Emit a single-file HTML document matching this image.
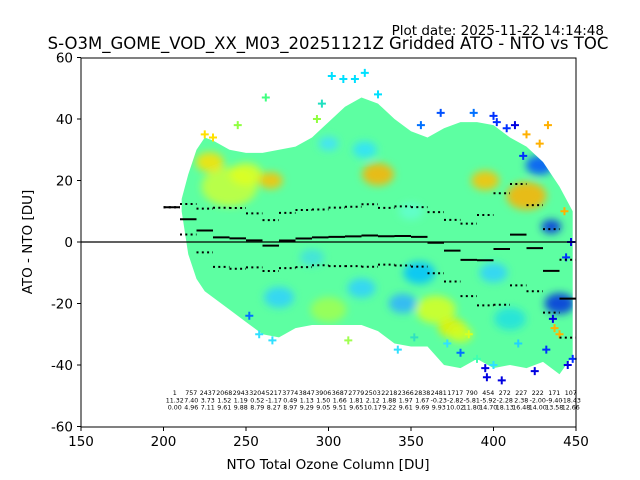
<!DOCTYPE html>
<html><head><meta charset="utf-8">
<style>
body{margin:0;background:#fff;}
svg{display:block;font-family:"DejaVu Sans","Liberation Sans",sans-serif;}
</style></head>
<body>
<svg id="chart" width="640" height="480" viewBox="0 0 640 480">
<defs>
<clipPath id="plotclip"><rect x="81" y="58" width="495" height="369"/></clipPath>
<filter id="blur" x="-50%" y="-50%" width="200%" height="200%"><feGaussianBlur stdDeviation="4"/></filter>
</defs>
<text x="604" y="35" font-size="13.5" text-anchor="end">Plot date: 2025-11-22 14:14:48</text>
<text x="328" y="49" font-size="16.5" text-anchor="middle">S-O3M_GOME_VOD_XX_M03_20251121Z Gridded ATO - NTO vs TOC</text>
<g id="cloud" clip-path="url(#plotclip)"></g>
<g id="marks"></g>
<g id="axes"></g>
<rect x="81" y="58" width="495" height="369" fill="none" stroke="#000" stroke-width="1"/>
<text x="328" y="469" font-size="13.5" text-anchor="middle">NTO Total Ozone Column [DU]</text>
<text x="32" y="242" font-size="13.5" text-anchor="middle" transform="rotate(-90 32 242)">ATO - NTO [DU]</text>
</svg>
<script>
const binStarts=[200,210,220,230,240,250,260,270,280,290,300,310,320,330,340,350,360,370,380,390,400,410,420,430,440];
const counts=[1,757,2437,2068,2943,3204,5217,3774,3847,3906,3687,2779,2503,2218,2366,2838,2481,1717,790,454,272,227,222,171,107];
const means=[11.32,7.40,3.73,1.52,1.19,0.52,-1.17,0.49,1.13,1.50,1.66,1.81,2.12,1.88,1.97,1.67,-0.23,-2.82,-5.81,-5.92,-2.28,2.38,-2.00,-9.40,-18.43];
const stds=[0.00,4.96,7.11,9.61,9.88,8.79,8.27,8.97,9.29,9.05,9.51,9.65,10.17,9.22,9.61,9.69,9.93,10.02,11.80,14.70,18.13,16.48,14.00,13.58,12.66];
const xTicks=[150,200,250,300,350,400,450];
const yTicks=[-60,-40,-20,0,20,40,60];
const envX=[211,215,220,225,230,240,250,260,270,280,290,300,310,320,330,340,350,360,370,380,390,400,410,420,430,440,448];
const envTop=[14,22,30,34,33,30,29,29,30,31,34,39,44,47,45,40,36,34,37,39,39,38,34,31,26,18,10];
const envBot=[10,-4,-12,-16,-18,-22,-26,-30,-31,-28,-27,-27,-27,-27,-29,-33,-34,-34,-40,-41,-38,-41,-40,-41,-39,-43,-37];
const patchX=[240,228,250,265,330,322,300,420,428,435,365,375,355,345,300,270,440,410,380,320,290,395,400,350];
const patchY=[18,26,22,20,22,30,32,15,25,5,-22,-28,-10,-20,-22,-18,-20,-25,-30,-15,-5,20,-10,10];
const patchR=[28,14,16,12,16,12,10,20,14,10,20,14,16,14,18,15,15,16,12,14,12,14,14,12];
const patchC=["#c8ff3a","#ffe000","#e0ff20","#ffc000","#ffb000","#30e0ff","#40e0ff","#ffb000","#0050ff","#0030e0","#d8ff20","#e8f000","#00c0ff","#30b0ff","#a0ff50","#30d0ff","#0030e0","#20e0e0","#d0ff20","#30d0ff","#40e0e0","#ffc000","#30d0ff","#60ffd0"];
const outX=[302,309,316,322,262,245,293,388,400,402,408,368,356,312,352,380,390,395,400,396,445,448,440,436,444,447,443,433,428,413,420,418,258,266,252,230,225,405,415,425,437,432,385,372,342,330,296];
const outY=[54,53,53,55,47,38,40,42,41,39,37,42,38,-32,-31,-36,-38,-41,-40,-44,-40,-38,-30,-25,-5,0,10,38,32,38,35,28,-30,-32,-24,34,35,-45,-33,-42,-28,-35,-30,-33,-35,48,45];
const outC=["#00e0ff","#00e0ff","#00e0ff","#00e0ff","#40ff80","#90ff40","#90ff40","#0070ff","#0030ff","#0030ff","#0030ff","#0050ff","#0070ff","#a0ff50","#30e0c0","#0070ff","#40ffb0","#0000e0","#30e0ff","#0000e0","#0000e0","#0030ff","#ffb000","#0000e0","#0030ff","#0000e0","#ffb000","#ffb000","#ffb000","#0000e0","#ffb000","#0030ff","#30e0ff","#30e0ff","#0070ff","#ffe000","#ffe000","#0000e0","#20d0ff","#0000e0","#ffb000","#0030ff","#d8ff20","#30e0ff","#30e0ff","#00e0ff","#20e0c0"];

const X=v=>81+(v-150)*495/300;
const Y=v=>242-v*369/120;
const NS="http://www.w3.org/2000/svg";
function mk(tag,attrs,parent){const e=document.createElementNS(NS,tag);for(const k in attrs)e.setAttribute(k,attrs[k]);parent.appendChild(e);return e;}

const cloud=document.getElementById('cloud');
let pts=[];
for(let i=0;i<envX.length;i++)pts.push(X(envX[i])+','+Y(envTop[i]));
for(let i=envX.length-1;i>=0;i--)pts.push(X(envX[i])+','+Y(envBot[i]));
const env=mk('polygon',{points:pts.join(' '),fill:'#5dffa2'},cloud);


const cp=mk('clipPath',{id:'envclip'},document.querySelector('defs'));
mk('polygon',{points:pts.join(' ')},cp);
const pg=mk('g',{filter:'url(#blur)','clip-path':'url(#envclip)'},cloud);
for(let i=0;i<patchX.length;i++){
  const c=mk('ellipse',{cx:X(patchX[i]),cy:Y(patchY[i]),rx:patchR[i]*1.0,ry:patchR[i]*0.7,fill:patchC[i],opacity:0.85},pg);
  
  
}
const marks=document.getElementById('marks');
for(let i=0;i<outX.length;i++){
  const x=X(outX[i]),y=Y(outY[i]);
  const p=mk('path',{d:`M${x-4},${y}H${x+4}M${x},${y-4}V${y+4}`,stroke:outC[i],'stroke-width':2},marks);
  
  
}
const zl=mk('line',{x1:81,x2:576,y1:Y(0),y2:Y(0),stroke:'#000','stroke-width':1.2},marks);


for(let i=0;i<binStarts.length;i++){
  const x1=X(binStarts[i]),x2=X(binStarts[i]+10);
  const m=mk('line',{x1:x1,x2:x2,y1:Y(means[i]),y2:Y(means[i]),stroke:'#000','stroke-width':2},marks);
  
  
  for(const s of [1,-1]){
    const d=mk('line',{x1:x1,x2:x2,y1:Y(means[i]+s*stds[i]),y2:Y(means[i]+s*stds[i]),stroke:'#000','stroke-width':2,'stroke-dasharray':'2,3.3'},marks);
    
    
  }
  const cx=X(binStarts[i]+5)+3;
  const rows=[String(counts[i]),means[i].toFixed(2),stds[i].toFixed(2)];
  rows.forEach((r,j)=>{
    const t=mk('text',{x:cx,y:395+j*7.3,'font-size':6.3,'text-anchor':'middle'},marks);
    t.textContent=r;
    
    
  });
}
const axes=document.getElementById('axes');
xTicks.forEach(v=>{
  const l=mk('line',{x1:X(v),x2:X(v),y1:427,y2:431,stroke:'#000'},axes);
  
  
  const t=mk('text',{x:X(v),y:446,'font-size':13.5,'text-anchor':'middle'},axes);
  t.textContent=v;
  
  
});
yTicks.forEach(v=>{
  const l=mk('line',{x1:77,x2:81,y1:Y(v),y2:Y(v),stroke:'#000'},axes);
  
  
  const t=mk('text',{x:73,y:Y(v)+5,'font-size':13.5,'text-anchor':'end'},axes);
  t.textContent=v;
  
  
});
</script>
</body></html>
